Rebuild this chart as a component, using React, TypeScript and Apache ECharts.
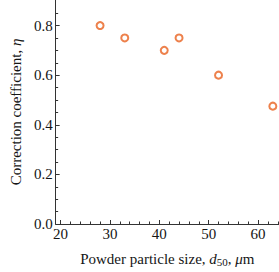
import React, { useEffect, useRef } from "react";
import * as echarts from "echarts";

const particleSize = [28, 33, 41, 44, 52, 63];
const correction = [0.8, 0.75, 0.7, 0.75, 0.6, 0.475];
const xMajorTicks = [20, 30, 40, 50, 60];
const xMinorTicks = [22, 24, 26, 28, 32, 34, 36, 38, 42, 44, 46, 48, 52, 54, 56, 58, 62, 64];
const yMajorTicks = [0, 0.2, 0.4, 0.6, 0.8];
const yMinorTicks = [0.05, 0.1, 0.15, 0.25, 0.3, 0.35, 0.45, 0.5, 0.55, 0.65, 0.7, 0.75, 0.85];

const FONT = "Liberation Serif";
const AXIS_COLOR = "#333";
const TEXT_COLOR = "#151515";
const MARK_COLOR = "#E8621F";
const FS = 15;

export default function App() {
  const ref = useRef<HTMLDivElement>(null);
  useEffect(() => {
    if (!ref.current) return;
    const chart = echarts.init(ref.current, undefined, { renderer: "svg" });
    const xMin = 19;
    const xMax = 64.25;
    const yMin = 0;
    const yMax = 0.903;
    const rich = {
      i: { fontFamily: FONT, fontStyle: "italic", fontSize: FS, color: TEXT_COLOR },
      sub: { fontFamily: FONT, fontSize: 11, color: TEXT_COLOR, verticalAlign: "bottom", padding: [6, 0, 0, 0] },
    };
    chart.setOption({
      animation: false,
      grid: { left: 46, right: 0, top: 0, bottom: 39.5, containLabel: false },
      xAxis: [
        {
          type: "value",
          min: xMin,
          max: xMax,
          splitLine: { show: false },
          axisLine: { show: true, onZero: false, lineStyle: { color: AXIS_COLOR, width: 1 } },
          axisTick: { show: true, inside: true, length: 4, customValues: xMajorTicks, lineStyle: { color: AXIS_COLOR } },
          axisLabel: {
            customValues: xMajorTicks,
            margin: 2,
            fontFamily: FONT,
            fontSize: FS,
            color: TEXT_COLOR,
            formatter: (v: number) => String(Math.round(v)),
          },
          name: "Powder particle size, {i|d}{sub|50}, {i|μ}m",
          nameLocation: "middle",
          nameGap: 26,
          nameTextStyle: { fontFamily: FONT, fontSize: FS, color: TEXT_COLOR, rich },
        },
        {
          type: "value",
          min: xMin,
          max: xMax,
          position: "bottom",
          splitLine: { show: false },
          axisLine: { show: false },
          axisTick: { show: true, inside: true, length: 2.5, customValues: xMinorTicks, lineStyle: { color: AXIS_COLOR } },
          axisLabel: { show: false },
        },
      ],
      yAxis: [
        {
          type: "value",
          min: yMin,
          max: yMax,
          splitLine: { show: false },
          axisLine: { show: true, onZero: false, lineStyle: { color: AXIS_COLOR, width: 1 } },
          axisTick: { show: true, inside: true, length: 4, customValues: yMajorTicks, lineStyle: { color: AXIS_COLOR } },
          axisLabel: {
            customValues: yMajorTicks,
            margin: 3,
            fontFamily: FONT,
            fontSize: FS,
            color: TEXT_COLOR,
            formatter: (v: number) => v.toFixed(1),
          },
          name: "Correction coefficient, {i|η}",
          nameLocation: "middle",
          nameGap: 26,
          nameTextStyle: { fontFamily: FONT, fontSize: FS, color: TEXT_COLOR, rich },
        },
        {
          type: "value",
          min: yMin,
          max: yMax,
          position: "left",
          splitLine: { show: false },
          axisLine: { show: false },
          axisTick: { show: true, inside: true, length: 2.5, customValues: yMinorTicks, lineStyle: { color: AXIS_COLOR } },
          axisLabel: { show: false },
        },
      ],
      series: [
        {
          type: "scatter",
          xAxisIndex: 0,
          yAxisIndex: 0,
          data: particleSize.map((x, i) => [x, correction[i]]),
          symbol: "circle",
          symbolSize: 7,
          itemStyle: { color: "#fff", borderColor: MARK_COLOR, borderWidth: 2 },
        },
      ],
    });
    return () => chart.dispose();
  }, []);
  return <div ref={ref} style={{ width: 279, height: 272, position: "absolute", left: 0, top: 0 }} />;
}
